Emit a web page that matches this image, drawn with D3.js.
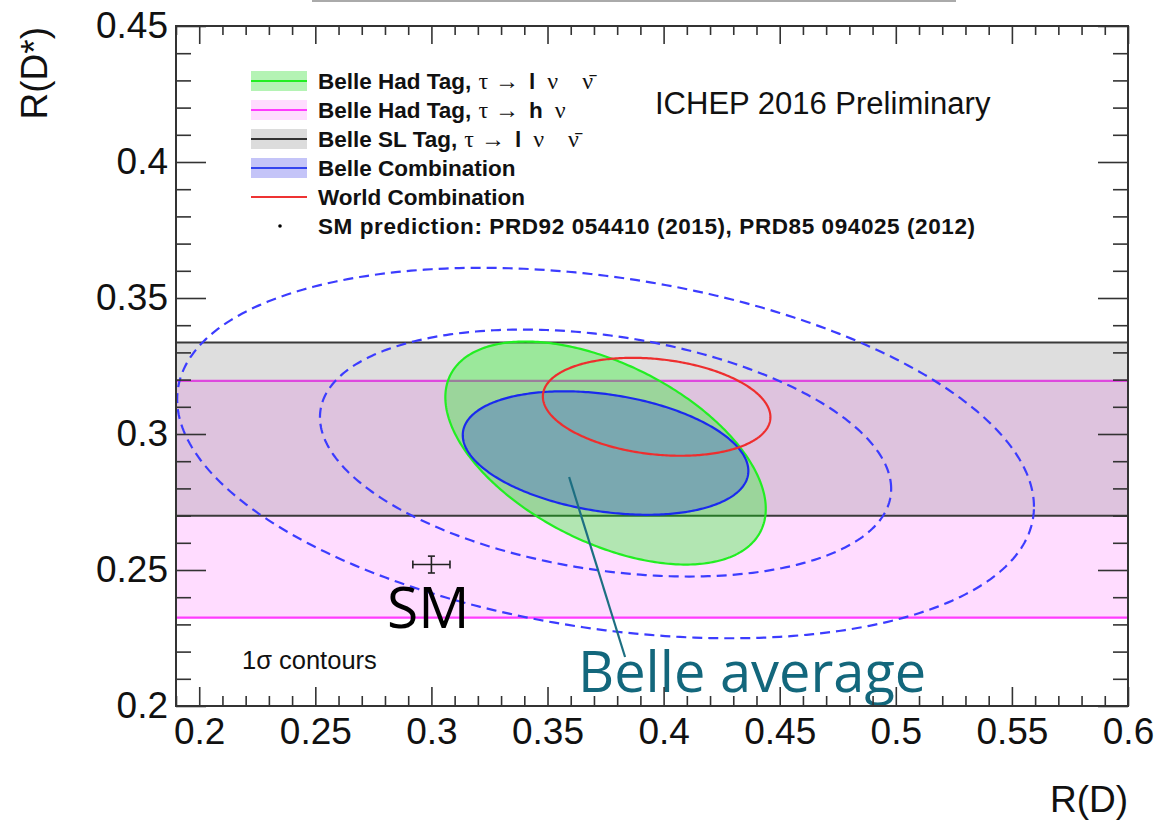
<!DOCTYPE html>
<html><head><meta charset="utf-8">
<script src="https://cdn.jsdelivr.net/npm/d3@7"></script>
<style>body{margin:0;background:#fff}svg{display:block}</style>
</head><body>
<svg id="c" width="1162" height="825"></svg>
<script>
// ---------- data ----------
const xDomain = [0.19, 0.6];
const yDomain = [0.2, 0.45];
const xMajor = [0.2, 0.25, 0.3, 0.35, 0.4, 0.45, 0.5, 0.55, 0.6];
const xTickLabels = ["0.2", "0.25", "0.3", "0.35", "0.4", "0.45", "0.5", "0.55", "0.6"];
const yMajor = [0.2, 0.25, 0.3, 0.35, 0.4, 0.45];
const yTickLabels = ["0.2", "0.25", "0.3", "0.35", "0.4", "0.45"];

// horizontal R(D*) bands: tau->h nu (Had tag), SL tag tau->l nu nu
const bandNames = ["Belle Had Tag, tau->h nu", "Belle SL Tag, tau->l nu nu"];
const bandLow = [0.2325, 0.2699];
const bandHigh = [0.3195, 0.3336];

// 1-sigma ellipses: Had tag tau->l nu nu, Belle combination, World combination
const ellNames = ["Belle Had Tag l", "Belle Combination", "World Combination"];
const ellMeanRD = [0.375, 0.375, 0.397];
const ellMeanRDs = [0.293, 0.293, 0.310];
const ellSigmaRD = [0.069, 0.0615, 0.049];
const ellSigmaRDs = [0.041, 0.0227, 0.018];
const ellRho = [-0.50, -0.29, -0.21];
const dashedScales = [2, 3]; // extra contours of Belle combination

// SM prediction
const smRD = [0.300], smRDerr = [0.008];
const smRDs = [0.252], smRDserr = [0.0031];

// annotation pointer (data coords)
const pointerRD = [0.3593, 0.3834];
const pointerRDs = [0.2842, 0.2180];

// legend pieces: [text, bold, gap before]
const legendText = [
  [["Belle Had Tag,", 1, 0], ["τ", 0, 7], ["→", 0, 7], ["l", 1, 10], ["ν", 0, 12], ["ν\u0304", 0, 24]],
  [["Belle Had Tag,", 1, 0], ["τ", 0, 7], ["→", 0, 7], ["h", 1, 10], ["ν", 0, 12]],
  [["Belle SL Tag,", 1, 0], ["τ", 0, 7], ["→", 0, 7], ["l", 1, 10], ["ν", 0, 12], ["ν\u0304", 0, 24]],
  [["Belle Combination", 1, 0]],
  [["World Combination", 1, 0]],
  [["SM prediction: PRD92 054410 (2015), PRD85 094025 (2012)", 1, 0]]
];

// ---------- drawing ----------
const SANS = "'Liberation Sans', Arial, Helvetica, sans-serif";
const SERIF = "'Liberation Serif', 'DejaVu Serif', serif";
const svg = d3.select("#c");
const x = d3.scaleLinear().domain(xDomain).range([176, 1128]);
const y = d3.scaleLinear().domain(yDomain).range([706, 26]);

svg.append("line").attr("x1", 312).attr("x2", 956).attr("y1", 1).attr("y2", 1)
  .attr("stroke", "#aaa").attr("stroke-width", 2);

svg.append("defs").append("clipPath").attr("id", "clip").append("rect")
  .attr("x", 176).attr("y", 26).attr("width", 952).attr("height", 680);
const plot = svg.append("g").attr("clip-path", "url(#clip)");

// pink band (Had tag, tau->h nu)
plot.append("rect").attr("x", x(xDomain[0])).attr("width", x(xDomain[1]) - x(xDomain[0]))
  .attr("y", y(bandHigh[0])).attr("height", y(bandLow[0]) - y(bandHigh[0]))
  .attr("fill", "#ffdcff");
[bandLow[0], bandHigh[0]].forEach(v => plot.append("line")
  .attr("x1", x(xDomain[0])).attr("x2", x(xDomain[1])).attr("y1", y(v)).attr("y2", y(v))
  .attr("stroke", "#ff3cff").attr("stroke-width", 2.2));
// gray band (SL tag)
plot.append("rect").attr("x", x(xDomain[0])).attr("width", x(xDomain[1]) - x(xDomain[0]))
  .attr("y", y(bandHigh[1])).attr("height", y(bandLow[1]) - y(bandHigh[1]))
  .attr("fill", "rgba(111,111,111,0.23)");
[bandLow[1], bandHigh[1]].forEach(v => plot.append("line")
  .attr("x1", x(xDomain[0])).attr("x2", x(xDomain[1])).attr("y1", y(v)).attr("y2", y(v))
  .attr("stroke", "#3a3a3a").attr("stroke-width", 2));

function ellipsePts(i, k) {
  const n = 360, r = ellRho[i], pts = [];
  for (let j = 0; j < n; j++) {
    const t = 2 * Math.PI * j / n, c = Math.cos(t), s = Math.sin(t);
    pts.push([ellMeanRD[i] + k * ellSigmaRD[i] * c,
              ellMeanRDs[i] + k * ellSigmaRDs[i] * (r * c + Math.sqrt(1 - r * r) * s)]);
  }
  return pts;
}
const ell = d3.line().x(d => x(d[0])).y(d => y(d[1])).curve(d3.curveLinearClosed);

plot.append("path").attr("d", ell(ellipsePts(0, 1)))
  .attr("fill", "rgba(0,255,0,0.3)").attr("stroke", "#22ee22").attr("stroke-width", 2.2);
plot.append("path").attr("d", ell(ellipsePts(1, 1)))
  .attr("fill", "rgba(0,0,255,0.21)").attr("stroke", "#1a2aee").attr("stroke-width", 2.2);
dashedScales.forEach(k => plot.append("path").attr("d", ell(ellipsePts(1, k)))
  .attr("fill", "none").attr("stroke", "#3c3cff").attr("stroke-width", 2.2)
  .attr("stroke-dasharray", "10,6"));
plot.append("path").attr("d", ell(ellipsePts(2, 1)))
  .attr("fill", "none").attr("stroke", "#ee2e2e").attr("stroke-width", 2.2);

// SM point
const sm = plot.append("g").attr("stroke", "#222").attr("stroke-width", 1.6);
smRD.forEach((v, i) => {
  const cx = x(v), cy = y(smRDs[i]);
  const x0 = x(v - smRDerr[i]), x1 = x(v + smRDerr[i]);
  const y0 = y(smRDs[i] - smRDserr[i]), y1 = y(smRDs[i] + smRDserr[i]);
  sm.append("line").attr("x1", x0).attr("x2", x1).attr("y1", cy).attr("y2", cy);
  sm.append("line").attr("x1", cx).attr("x2", cx).attr("y1", y0).attr("y2", y1);
  [x0, x1].forEach(xx => sm.append("line").attr("x1", xx).attr("x2", xx).attr("y1", cy - 4).attr("y2", cy + 4));
  [y0, y1].forEach(yy => sm.append("line").attr("x1", cx - 3.5).attr("x2", cx + 3.5).attr("y1", yy).attr("y2", yy));
});

// pointer line
plot.append("line").attr("x1", x(pointerRD[0])).attr("y1", y(pointerRDs[0]))
  .attr("x2", x(pointerRD[1])).attr("y2", y(pointerRDs[1]))
  .attr("stroke", "#1d6f82").attr("stroke-width", 2.2);

// annotation texts
svg.append("text").attr("x", 387).attr("y", 628).text("SM")
  .attr("font-family", "'Open Sans', sans-serif").attr("font-size", 57).attr("fill", "#000");
svg.append("text").attr("x", 578).attr("y", 692).text("Belle average")
  .attr("font-family", "'Open Sans', sans-serif").attr("font-size", 56).attr("fill", "#13677c");
svg.append("text").attr("x", 242).attr("y", 669).text("1σ contours")
  .attr("font-family", SANS).attr("font-size", 25.5).attr("fill", "#111");
svg.append("text").attr("x", 655).attr("y", 114).text("ICHEP 2016 Preliminary")
  .attr("font-family", SANS).attr("font-size", 31).attr("fill", "#111");

// legend
const legY = d3.range(6).map(i => 81 + i * 29);
const swFill = ["#b4f3b4", "#ffdcff", "#dcdcdc", "#c4c4f8", null, null];
const swLine = ["#22ee22", "#ff3cff", "#333", "#3344ee", "#ee3333", null];
const leg = svg.append("g");
legendText.forEach((parts, i) => {
  const cy = legY[i];
  if (swFill[i]) leg.append("rect").attr("x", 251).attr("y", cy - 10).attr("width", 56).attr("height", 20).attr("fill", swFill[i]);
  if (swLine[i]) leg.append("line").attr("x1", 251).attr("x2", 307).attr("y1", cy).attr("y2", cy)
    .attr("stroke", swLine[i]).attr("stroke-width", 2.2);
  if (i === 5) leg.append("circle").attr("cx", 280).attr("cy", cy).attr("r", 1.8).attr("fill", "#000");
  const t = leg.append("text").attr("x", 318).attr("y", cy + 8).attr("font-size", 22.5)
    .attr("fill", "#111");
  if (i === 5) t.attr("textLength", 657).attr("lengthAdjust", "spacing");
  parts.forEach(p => t.append("tspan").text(p[0]).attr("dx", p[2])
    .attr("font-family", p[1] ? SANS : SERIF)
    .attr("font-size", p[1] ? 22.5 : 24)
    .attr("font-weight", p[1] ? "bold" : "normal"));
});

// frame
svg.append("rect").attr("x", 176).attr("y", 26).attr("width", 952).attr("height", 680)
  .attr("fill", "none").attr("stroke", "#333").attr("stroke-width", 2);

// axes
const xMinor = d3.range(19, 61).filter(i => i % 5).map(i => i / 100);
const yMinor = d3.range(20, 46).filter(i => i % 5).map(i => i / 100);
function styleAxis(g) {
  g.select(".domain").remove();
  g.selectAll(".tick line").attr("stroke", "#333").attr("stroke-width", 1.6);
  g.selectAll("text").attr("font-family", SANS).attr("font-size", 37).attr("fill", "#111");
}
svg.append("g").attr("transform", "translate(0,706)")
  .call(d3.axisBottom(x).tickValues(xMajor).tickSize(-19).tickPadding(12).tickFormat((d, i) => xTickLabels[i])).call(styleAxis);
svg.append("g").attr("transform", "translate(0,706)")
  .call(d3.axisBottom(x).tickValues(xMinor).tickSize(-10).tickFormat("")).call(styleAxis);
svg.append("g").attr("transform", "translate(0,26)")
  .call(d3.axisTop(x).tickValues(xMajor).tickSize(-18).tickFormat("")).call(styleAxis);
svg.append("g").attr("transform", "translate(0,26)")
  .call(d3.axisTop(x).tickValues(xMinor).tickSize(-9).tickFormat("")).call(styleAxis);
svg.append("g").attr("transform", "translate(176,0)")
  .call(d3.axisLeft(y).tickValues(yMajor).tickSize(-30).tickPadding(8).tickFormat((d, i) => yTickLabels[i])).call(styleAxis);
svg.append("g").attr("transform", "translate(176,0)")
  .call(d3.axisLeft(y).tickValues(yMinor).tickSize(-15).tickFormat("")).call(styleAxis);
svg.append("g").attr("transform", "translate(1128,0)")
  .call(d3.axisRight(y).tickValues(yMajor).tickSize(-30).tickFormat("")).call(styleAxis);
svg.append("g").attr("transform", "translate(1128,0)")
  .call(d3.axisRight(y).tickValues(yMinor).tickSize(-15).tickFormat("")).call(styleAxis);

// axis titles
svg.append("text").attr("x", 1128).attr("y", 812).attr("text-anchor", "end").text("R(D)")
  .attr("font-family", SANS).attr("font-size", 37).attr("fill", "#111");
svg.append("text").attr("transform", "translate(47,27) rotate(-90)").attr("text-anchor", "end").text("R(D*)")
  .attr("font-family", SANS).attr("font-size", 37).attr("fill", "#111");
</script>
</body></html>
